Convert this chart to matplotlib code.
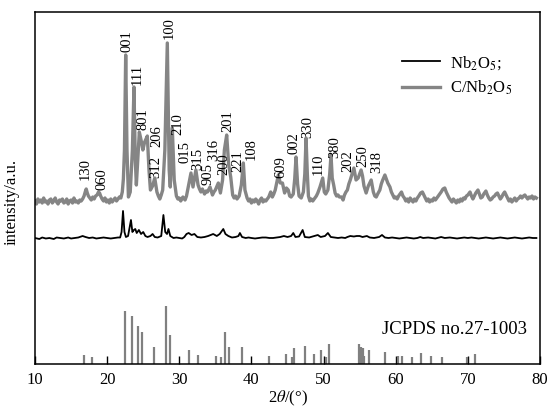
import numpy as np
import matplotlib
matplotlib.use("Agg")
from matplotlib import pyplot as plt

plt.rcParams["font.family"] = ["Liberation Serif", "DejaVu Serif"]
plt.rcParams["mathtext.fontset"] = "stix"

# C/Nb2O5 pattern (2theta, counts in plot units)
c_tt = [10.0, 10.2, 10.4, 10.6, 10.8, 11.0, 11.2, 11.4, 11.6, 11.8, 12.0, 12.2, 12.4, 12.6,
        12.8, 13.0, 13.2, 13.4, 13.6, 13.8, 14.0, 14.2, 14.4, 14.6, 14.8, 15.0, 15.2, 15.4,
        15.6, 15.8, 16.0, 16.2, 16.4, 16.6, 16.8, 17.0, 17.1, 17.25, 17.4, 17.6, 17.8, 18.0,
        18.2, 18.4, 18.6, 18.8, 18.95, 19.1, 19.3, 19.5, 19.7, 19.9, 20.1, 20.3, 20.5, 20.7,
        20.9, 21.1, 21.3, 21.5, 21.7, 21.9, 22.1, 22.25, 22.4, 22.57, 22.75, 22.95, 23.2,
        23.5, 23.72, 23.9, 24.05, 24.2, 24.46, 24.7, 24.95, 25.2, 25.57, 25.8, 26.0, 26.3,
        26.6, 26.9, 27.1, 27.3, 27.5, 27.7, 28.0, 28.34, 28.6, 28.75, 29.03, 29.3, 29.6,
        29.8, 30.0, 30.2, 30.5, 30.8, 31.0, 31.3, 31.62, 31.9, 32.3, 32.6, 32.8, 33.0, 33.2,
        33.5, 33.7, 33.9, 34.26, 34.6, 34.8, 35.0, 35.41, 35.7, 36.0, 36.25, 36.57, 36.85,
        37.13, 37.4, 37.6, 37.8, 38.0, 38.3, 38.6, 38.88, 39.1, 39.4, 39.6, 39.8, 40.0, 40.2,
        40.4, 40.6, 40.8, 41.0, 41.2, 41.4, 41.6, 41.8, 42.0, 42.2, 42.4, 42.67, 42.9, 43.1,
        43.3, 43.5, 43.73, 44.0, 44.3, 44.6, 44.85, 45.1, 45.3, 45.5, 45.8, 46.0, 46.18,
        46.4, 46.6, 46.9, 47.2, 47.4, 47.57, 47.75, 47.9, 48.1, 48.3, 48.5, 48.8, 49.0, 49.2,
        49.5, 49.88, 50.1, 50.3, 50.6, 50.85, 51.03, 51.2, 51.4, 51.6, 51.8, 52.0, 52.2,
        52.5, 52.7, 52.9, 53.1, 53.3, 53.5, 53.7, 53.95, 54.2, 54.5, 54.8, 55.0, 55.2, 55.4,
        55.6, 55.9, 56.2, 56.4, 56.6, 56.9, 57.1, 57.3, 57.5, 57.8, 58.0, 58.2, 58.5, 58.7,
        58.9, 59.2, 59.4, 59.6, 59.8, 60.0, 60.2, 60.4, 60.6, 60.8, 61.0, 61.2, 61.4, 61.6,
        61.8, 62.0, 62.2, 62.4, 62.6, 62.8, 63.0, 63.2, 63.45, 63.7, 63.9, 64.1, 64.3, 64.5,
        64.7, 64.9, 65.1, 65.3, 65.5, 65.7, 65.9, 66.1, 66.3, 66.55, 66.8, 67.0, 67.2, 67.4,
        67.6, 67.8, 68.0, 68.2, 68.4, 68.6, 68.8, 69.0, 69.2, 69.4, 69.6, 69.8, 70.0, 70.3,
        70.5, 70.7, 70.9, 71.1, 71.4, 71.6, 71.8, 72.0, 72.2, 72.5, 72.7, 72.9, 73.1, 73.3,
        73.5, 73.7, 73.9, 74.1, 74.3, 74.5, 74.7, 74.9, 75.1, 75.3, 75.5, 75.7, 75.9, 76.1,
        76.3, 76.5, 76.7, 76.9, 77.1, 77.3, 77.5, 77.7, 77.9, 78.1, 78.3, 78.5, 78.7, 78.9,
        79.1, 79.3, 79.5]
c_int = [163, 160, 165, 162, 164, 161, 166, 162, 163, 160, 164, 165, 161, 163,
         166, 162, 160, 164, 163, 165, 161, 162, 165, 160, 163, 164, 161, 166,
         162, 163, 161, 164, 163, 165, 168, 173, 175, 171, 168, 166, 164, 167,
         165, 168, 169, 172, 171, 168, 165, 163, 166, 162, 164, 161, 165, 162,
         164, 166, 163, 165, 167, 166, 172, 185, 214, 309, 214, 167, 172,
         214, 277, 204, 179, 199, 232, 224, 214, 222, 228, 194, 174, 178,
         186, 172, 168, 165, 169, 174, 214, 321, 194, 177, 236, 184, 168,
         165, 166, 163, 167, 164, 168, 179, 191, 177, 194, 179, 175, 172, 175,
         170, 173, 172, 177, 169, 172, 174, 181, 171, 184, 214, 229, 199,
         187, 169, 166, 168, 165, 168, 179, 201, 174, 166, 163, 165, 161, 164,
         162, 165, 163, 160, 164, 166, 162, 164, 163, 165, 167, 172, 167, 170,
         174, 181, 189, 181, 181, 171, 176, 174, 168, 167, 170, 185, 207,
         180, 168, 166, 172, 190, 226, 190, 168, 163, 165, 163, 166, 168, 171,
         177, 186, 172, 170, 174, 190, 209, 186, 179, 171, 168, 169, 167,
         167, 164, 169, 172, 174, 180, 184, 190, 196, 184, 186, 190, 194, 188,
         178, 171, 178, 181, 184, 172, 168, 167, 170, 174, 180, 184, 189, 185,
         181, 177, 172, 169, 166, 167, 165, 168, 170, 172, 168, 166, 163, 165,
         162, 166, 164, 162, 165, 163, 166, 168, 171, 172, 169, 166, 163, 165,
         162, 164, 163, 166, 164, 166, 168, 170, 172, 175, 176, 172, 169, 166,
         164, 162, 165, 163, 161, 164, 162, 165, 163, 166, 165, 168, 169, 172,
         168, 165, 168, 171, 174, 170, 166, 167, 170, 173, 169, 166, 164, 165,
         167, 168, 170, 171, 168, 165, 167, 170, 172, 169, 166, 163, 165, 162,
         164, 166, 163, 165, 166, 168, 166, 168, 169, 167, 165, 167, 166, 168,
         165, 167, 166]

# Nb2O5 pattern
n_tt = [10.0, 10.6, 11.0, 11.5, 12.0, 12.6, 13.0, 13.5, 14.0, 14.6, 15.0, 15.5, 16.0, 16.6,
        17.0, 17.5, 18.0, 18.5, 19.0, 19.5, 20.0, 20.5, 21.0, 21.5, 21.8, 22.0, 22.2, 22.4,
        22.6, 22.9, 23.1, 23.3, 23.5, 23.7, 23.9, 24.1, 24.4, 24.7, 25.0, 25.3, 25.6, 26.0,
        26.3, 26.6, 27.0, 27.5, 27.8, 28.05, 28.3, 28.5, 28.75, 29.2, 29.6, 30.0, 30.4, 30.7,
        31.0, 31.3, 31.7, 32.1, 32.5, 33.0, 33.5, 34.0, 34.7, 35.2, 35.6, 36.1, 36.4, 36.8,
        37.3, 37.8, 38.2, 38.4, 38.7, 39.2, 39.6, 40.0, 40.5, 41.0, 41.5, 42.0, 42.5, 43.0,
        43.5, 44.0, 44.5, 45.0, 45.5, 45.8, 46.1, 46.6, 47.1, 47.4, 48.0, 48.7, 49.2, 49.6,
        50.2, 50.6, 51.0, 51.5, 52.0, 52.5, 53.0, 53.3, 53.7, 54.2, 54.6, 55.0, 55.4, 56.0,
        56.4, 57.0, 57.7, 58.1, 58.5, 59.0, 59.5, 60.0, 60.5, 61.0, 61.5, 62.0, 62.5, 63.0,
        63.4, 63.8, 64.5, 65.0, 65.5, 66.0, 66.3, 66.8, 67.5, 68.0, 68.5, 69.0, 69.5, 70.0,
        70.5, 71.0, 71.5, 72.0, 72.5, 73.0, 73.5, 74.0, 74.5, 75.0, 75.5, 76.0, 76.5, 77.0,
        77.5, 78.0, 78.5, 79.0, 79.5]
n_int = [126, 125, 126.5, 125.5, 126, 125, 126.5, 126, 125.5, 126.5, 125.5, 126, 126.5, 128,
         127, 126, 126.5, 125.5, 126, 126.5, 126, 125.5, 126, 126.5, 126.5, 132, 153, 132,
         127, 128, 136, 144, 132, 134, 135, 131, 134, 130, 132, 128, 127, 128,
         130, 127, 126.5, 128, 149, 132, 130, 135, 128, 126, 126.5, 126, 125.5, 127,
         130, 131, 129, 130, 127, 126.5, 127, 128, 130, 128, 130, 135, 130, 128,
         126.5, 127, 128, 131, 127, 126, 126.5, 126, 125.5, 126, 126.5, 126.5, 126, 126,
         126.5, 127, 128, 127, 128, 131, 127, 127.5, 134, 127, 126.5, 128, 129, 127,
         128, 131, 127, 126.5, 126, 126.5, 126, 127, 128, 127.5, 128, 128, 127, 128,
         126.5, 126, 127, 129, 126.5, 126, 126.5, 126, 125.5, 126, 126.5, 126, 125.5, 126,
         127, 126, 126.5, 126, 125.5, 126.5, 127, 126, 126.5, 126, 125.5, 126, 126.5, 126,
         126.5, 126, 125.5, 126, 126.5, 126, 125.5, 126, 126.5, 126, 125.5, 126, 126.5, 126,
         125.5, 126, 126.5, 126, 126]

# JCPDS no.27-1003 reference lines
ref_tt = [16.75, 17.85, 22.5, 23.5, 24.23, 24.87, 26.45, 28.2, 28.71, 31.35, 32.64, 35.05,
          35.83, 36.38, 36.94, 38.72, 42.48, 44.8, 45.58, 45.95, 47.43, 48.68, 49.6, 50.34,
          50.8, 54.87, 55.15, 55.42, 55.65, 56.3, 58.5, 60.3, 60.87, 62.2, 63.5, 64.9,
          66.37, 69.9, 71.0]
ref_int = [9, 7, 53, 48, 38, 32, 17, 58, 29, 14, 9, 8,
           7, 32, 17, 17, 8, 10, 7, 16, 18, 10, 14, 7,
           20, 20, 17, 16, 8, 14, 12, 8, 8, 7, 11, 8,
           7, 7, 10]

# Miller indices above the C/Nb2O5 peaks
hkl = ["130", "060", "001", "111", "801", "206", "312", "100", "210", "015", "315", "905",
       "316", "200", "201", "221", "108", "609", "002", "330", "110", "380", "202", "250",
       "318"]
hkl_tt = [16.95, 19.33, 22.71, 24.18, 25.0, 26.95, 26.75, 28.62, 29.87, 30.85, 32.5, 34.0,
          34.8, 36.15, 36.8, 38.18, 40.03, 44.15, 45.9, 47.74, 49.27, 51.58, 53.43, 55.43,
          57.36]
hkl_y = [184, 174, 312, 279, 234, 217, 186, 325, 229, 201, 194, 179,
         203, 189, 232, 192, 204, 186, 210, 226, 189, 206, 192, 197,
         191]

fig = plt.figure(figsize=(5.53, 4.07), dpi=100)
ax = fig.add_axes([35 / 553, 1 - 364 / 407, 505 / 553, 352 / 407])

ax.plot(n_tt, n_int, color="black", lw=1.3, label="Nb$_2$O$_5$;")
ax.plot(c_tt, c_int, color="#858585", lw=2.4, label="C/Nb$_2$O$_5$")
ax.vlines(ref_tt, 0, ref_int, color="#808080", lw=1.6)

for (t, y, s) in zip(hkl_tt, hkl_y, hkl):
    ax.text(t, y, s, rotation=90, ha="center", va="bottom", fontsize=10.5)

ax.text(78.2, 26, "JCPDS no.27-1003", ha="right", va="bottom", fontsize=13.5)

ax.set_xlim(10, 80)
ax.set_ylim(0, 352)
ax.set_xticks(np.arange(10, 81, 10))
ax.set_yticks([])
ax.tick_params(axis="x", direction="in", length=6, width=1, labelsize=12, pad=6)
for sp in ax.spines.values():
    sp.set_linewidth(1.1)

ax.set_xlabel(r"2$\it{\theta}$/(°)", fontsize=12, labelpad=0)
ax.set_ylabel("intensity/a.u.", fontsize=12)
ax.yaxis.set_label_coords(-0.03, 0.46)

leg = ax.legend(loc="upper right", bbox_to_anchor=(0.975, 0.924), frameon=False,
                fontsize=12, handlelength=2.3, handletextpad=0.6, labelspacing=0.45)

plt.savefig("out.png", dpi=100)
